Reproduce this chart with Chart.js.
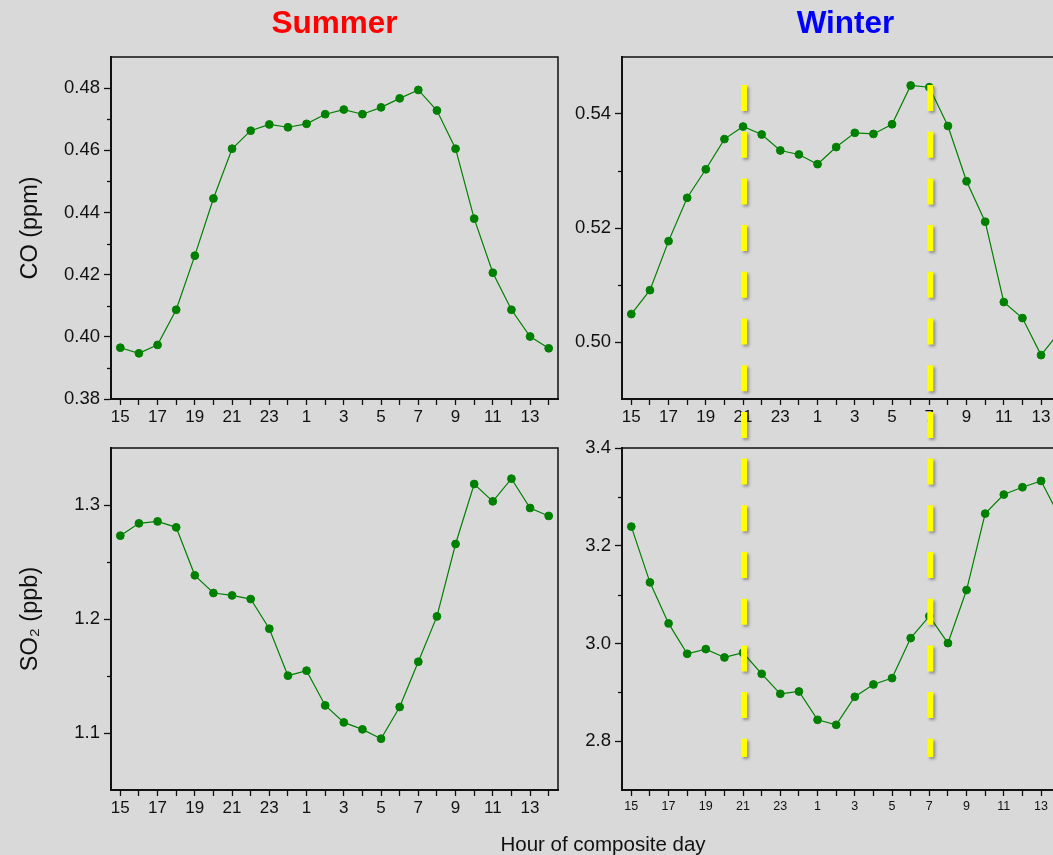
<!DOCTYPE html>
<html>
<head>
<meta charset="utf-8">
<script src="https://cdn.jsdelivr.net/npm/chart.js@4/dist/chart.umd.min.js"></script>
<style>
  html, body { margin: 0; padding: 0; background: #d9d9d9; overflow: hidden; }
  #wrap { position: relative; width: 1100px; height: 855px; background: #d9d9d9; }
  #wrap canvas { position: absolute; }
  #xlabel { position: absolute; left: 453px; top: 832px; width: 300px; text-align: center;
            font: 20.5px "Liberation Sans", Arial, sans-serif; color: #111; }
</style>
</head>
<body>
<div id="wrap">
  <canvas id="coSummer" width="575" height="430" style="left:0;top:0"></canvas>
  <canvas id="coWinter" width="516" height="430" style="left:570px;top:0"></canvas>
  <canvas id="so2Summer" width="575" height="390" style="left:0;top:430px"></canvas>
  <canvas id="so2Winter" width="516" height="390" style="left:570px;top:430px"></canvas>
  <canvas id="marks" width="1100" height="855" style="left:0;top:0;pointer-events:none"></canvas>
  <div id="xlabel">Hour of composite day</div>
</div>
<script>
// Hour of the composite day, starting at 15:00
const hours = ['15','16','17','18','19','20','21','22','23','24','1','2','3','4','5','6','7','8','9','10','11','12','13','14'];

// Composite diurnal means
const coSummer  = [0.3965, 0.3947, 0.3974, 0.4087, 0.4261, 0.4445, 0.4605, 0.4663, 0.4683, 0.4674, 0.4685, 0.4716,
                   0.4731, 0.4716, 0.4738, 0.4767, 0.4794, 0.4728, 0.4605, 0.4380, 0.4206, 0.4087, 0.4001, 0.3963];
const coWinter  = [0.5049, 0.5091, 0.5177, 0.5253, 0.5303, 0.5356, 0.5378, 0.5364, 0.5336, 0.5329, 0.5312, 0.5342,
                   0.5367, 0.5365, 0.5382, 0.5450, 0.5447, 0.5379, 0.5282, 0.5211, 0.5070, 0.5042, 0.4977, 0.5018];
const so2Summer = [1.2731, 1.2839, 1.2856, 1.2804, 1.2383, 1.2228, 1.2207, 1.2175, 1.1915, 1.1503, 1.1547, 1.1242,
                   1.1093, 1.1032, 1.0950, 1.1228, 1.1625, 1.2023, 1.2658, 1.3184, 1.3032, 1.3231, 1.2974, 1.2904];
const so2Winter = [3.2391, 3.1250, 3.0410, 2.9788, 2.9884, 2.9713, 2.9809, 2.9378, 2.8969, 2.9016, 2.8436, 2.8334,
                   2.8908, 2.9160, 2.9290, 3.0109, 3.0559, 3.0006, 3.1093, 3.2657, 3.3047, 3.3197, 3.3326, 3.2588];

// Axis ranges, labelled ticks and minor ticks
const coSummerRange  = [0.38, 0.49];
const coSummerTicks  = [0.38, 0.40, 0.42, 0.44, 0.46, 0.48];
const coSummerMinor  = [0.39, 0.41, 0.43, 0.45, 0.47];
const coWinterRange  = [0.49, 0.55];
const coWinterTicks  = [0.50, 0.52, 0.54];
const coWinterMinor  = [0.51, 0.53];
const so2SummerRange = [1.05, 1.35];
const so2SummerTicks = [1.1, 1.2, 1.3];
const so2SummerMinor = [1.15, 1.25];
const so2WinterRange = [2.7, 3.4];
const so2WinterTicks = [2.8, 3.0, 3.2, 3.4];
const so2WinterMinor = [2.9, 3.1, 3.3];

// Hours marked with vertical dashed lines on the winter panels
const markedHours = ['21', '7'];

const FONT = '"Liberation Sans", Arial, sans-serif';
const GREEN = '#008000';

// Draws the top/right frame lines and the short minor ticks on the y axis
const framePlugin = {
  id: 'frame',
  afterDraw(chart, args, opts) {
    const {ctx, chartArea: a} = chart;
    const y = chart.scales.y;
    ctx.save();
    ctx.strokeStyle = '#111';
    ctx.lineWidth = 1.5;
    ctx.beginPath();
    ctx.moveTo(a.left, a.top);
    ctx.lineTo(a.right, a.top);
    ctx.lineTo(a.right, a.bottom);
    ctx.stroke();
    ctx.lineWidth = 1.3;
    (opts.minor || []).forEach(v => {
      const py = Math.round(y.getPixelForValue(v)) + 0.5;
      ctx.beginPath();
      ctx.moveTo(a.left - 4, py);
      ctx.lineTo(a.left, py);
      ctx.stroke();
    });
    ctx.restore();
  }
};

function makeChart(id, opt) {
  const cfg = {
    type: 'line',
    data: {
      labels: hours,
      datasets: [{
        data: opt.values,
        borderColor: GREEN,
        borderWidth: 1.2,
        backgroundColor: GREEN,
        pointBackgroundColor: GREEN,
        pointBorderColor: GREEN,
        pointBorderWidth: 1,
        pointRadius: 3.9,
        tension: 0,
        clip: false
      }]
    },
    plugins: [framePlugin],
    options: {
      responsive: false,
      animation: false,
      devicePixelRatio: 1,
      layout: { padding: { top: opt.padTop, right: 17, bottom: 0, left: 0 } },
      plugins: {
        legend: { display: false },
        tooltip: { enabled: false },
        frame: { minor: opt.minor },
        title: opt.title ? {
          display: true,
          text: opt.title,
          color: opt.titleColor,
          fullSize: false,
          font: { family: FONT, size: 31.5, weight: 'bold', lineHeight: 1.2 },
          padding: { top: 5.5, bottom: 13.7 }
        } : { display: false }
      },
      scales: {
        x: {
          type: 'category',
          offset: true,
          afterFit: s => { s.height = opt.xHeight; },
          grid: {
            offset: false, drawOnChartArea: false, drawTicks: true,
            tickLength: 6, tickColor: '#111', tickWidth: 1.3
          },
          border: { display: true, color: '#111', width: 2 },
          ticks: {
            autoSkip: false, maxRotation: 0, color: '#111', padding: opt.xPad,
            font: { family: FONT, size: opt.xFont },
            callback: function (v) {
              const h = parseInt(this.getLabelForValue(v), 10);
              return h % 2 === 1 ? String(h) : '';
            }
          }
        },
        y: {
          type: 'linear',
          min: opt.range[0],
          max: opt.range[1],
          afterFit: s => { s.width = opt.yWidth; },
          afterBuildTicks: s => { s.ticks = opt.ticks.map(v => ({ value: v })); },
          grid: {
            drawOnChartArea: false, drawTicks: true,
            tickLength: 7, tickColor: '#111', tickWidth: 1.3
          },
          border: { display: true, color: '#111', width: 2 },
          ticks: {
            color: '#111', padding: 4,
            font: { family: FONT, size: 18.5 },
            callback: v => Number(v).toFixed(opt.decimals)
          },
          title: opt.yTitle ? {
            display: true, text: opt.yTitle, color: '#111',
            font: { family: FONT, size: 23.5, lineHeight: 1.2 },
            padding: { top: 16, bottom: 0 }
          } : { display: false }
        }
      }
    }
  };
  return new Chart(document.getElementById(id), cfg);
}

const cSummerCO = makeChart('coSummer', {
  values: coSummer, range: coSummerRange, ticks: coSummerTicks, minor: coSummerMinor, decimals: 2,
  title: 'Summer', titleColor: '#ff0000', padTop: 0, yWidth: 111, xHeight: 31, xFont: 17, xPad: 2,
  yTitle: 'CO (ppm)'
});
const cWinterCO = makeChart('coWinter', {
  values: coWinter, range: coWinterRange, ticks: coWinterTicks, minor: coWinterMinor, decimals: 2,
  title: 'Winter', titleColor: '#0000ff', padTop: 0, yWidth: 52, xHeight: 31, xFont: 17, xPad: 2
});
const cSummerSO2 = makeChart('so2Summer', {
  values: so2Summer, range: so2SummerRange, ticks: so2SummerTicks, minor: so2SummerMinor, decimals: 1,
  padTop: 18, yWidth: 111, xHeight: 30, xFont: 17, xPad: 2,
  yTitle: 'SO\u2082 (ppb)'
});
const cWinterSO2 = makeChart('so2Winter', {
  values: so2Winter, range: so2WinterRange, ticks: so2WinterTicks, minor: so2WinterMinor, decimals: 1,
  padTop: 18, yWidth: 52, xHeight: 30, xFont: 12.5, xPad: 3
});

// Dashed markers spanning both winter panels, placed from the winter x scale
(function drawMarkers() {
  const cv = document.getElementById('marks');
  const ctx = cv.getContext('2d');
  const top = cWinterCO.canvas.offsetTop;
  const left = cWinterCO.canvas.offsetLeft;
  const xs = cWinterCO.scales.x;
  const yTop = top + cWinterCO.chartArea.top + 28;
  const yBot = cWinterSO2.canvas.offsetTop + cWinterSO2.chartArea.bottom - 33;
  ctx.save();
  ctx.strokeStyle = '#ffff00';
  ctx.lineWidth = 6;
  ctx.setLineDash([26, 20.7]);
  ctx.shadowColor = 'rgba(0,0,0,0.35)';
  ctx.shadowBlur = 3;
  ctx.shadowOffsetX = 2;
  ctx.shadowOffsetY = 2;
  markedHours.forEach(h => {
    const x = left + xs.getPixelForValue(hours.indexOf(h)) + 1;
    ctx.beginPath();
    ctx.moveTo(x, yTop);
    ctx.lineTo(x, yBot);
    ctx.stroke();
  });
  ctx.restore();
})();
</script>
</body>
</html>
